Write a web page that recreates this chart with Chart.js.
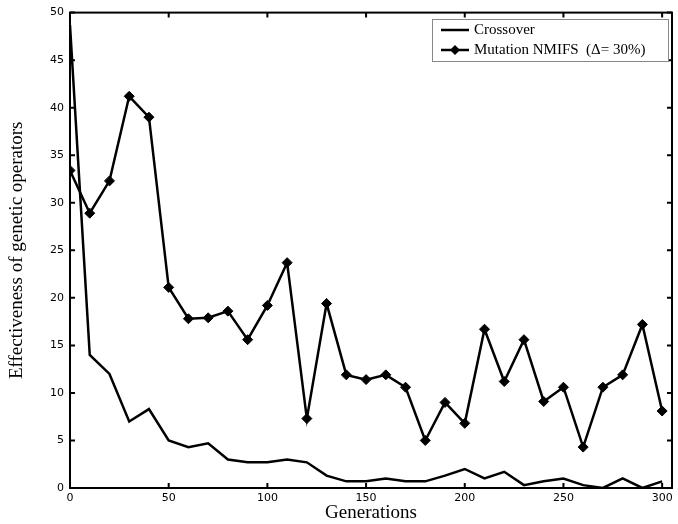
<!DOCTYPE html>
<html>
<head>
<meta charset="utf-8">
<script src="https://cdn.jsdelivr.net/npm/chart.js@4.4.1/dist/chart.umd.min.js"></script>
<style>
  html, body { margin: 0; padding: 0; background: #fff; }
  #wrap { width: 678px; height: 524px; }
</style>
</head>
<body>
<div id="wrap"><canvas id="chart1" width="678" height="524"></canvas></div>
<script>
const generations = [0, 10, 20, 30, 40, 50, 60, 70, 80, 90, 100, 110, 120, 130, 140, 150,
  160, 170, 180, 190, 200, 210, 220, 230, 240, 250, 260, 270, 280, 290, 300];

const crossover = [48.7, 14, 12, 7, 8.3, 5, 4.3, 4.7, 3, 2.7, 2.7, 3, 2.7, 1.3, 0.7, 0.7,
  1, 0.7, 0.7, 1.3, 2, 1, 1.7, 0.3, 0.7, 1, 0.3, 0, 1, 0, 0.7];

const mutation = [33.4, 28.9, 32.3, 41.2, 39, 21.1, 17.8, 17.9, 18.6, 15.6, 19.2, 23.7, 7.3, 19.4, 11.9, 11.4,
  11.9, 10.6, 5, 9, 6.8, 16.7, 11.2, 15.6, 9.1, 10.6, 4.3, 10.6, 11.9, 17.2, 8.1];

const seriesLabels = ["Crossover", "Mutation NMIFS  (\u0394= 30%)"];

function toPoints(vals) {
  return generations.map((g, i) => ({ x: g, y: vals[i] }));
}

// frame, inward ticks and boxed legend inside the plot
const framePlugin = {
  id: "frame",
  afterDraw(chart) {
    const ctx = chart.ctx;
    const a = chart.chartArea;
    const xs = chart.scales.x, ys = chart.scales.y;
    ctx.save();
    ctx.strokeStyle = "#000";
    ctx.lineWidth = 2;
    ctx.strokeRect(a.left, a.top, a.right - a.left, a.bottom - a.top);
    const len = 5;
    xs.ticks.forEach(t => {
      const px = xs.getPixelForValue(t.value);
      ctx.beginPath();
      ctx.moveTo(px, a.bottom); ctx.lineTo(px, a.bottom - len);
      ctx.moveTo(px, a.top); ctx.lineTo(px, a.top + len);
      ctx.stroke();
    });
    ys.ticks.forEach(t => {
      const py = ys.getPixelForValue(t.value);
      ctx.beginPath();
      ctx.moveTo(a.left, py); ctx.lineTo(a.left + len, py);
      ctx.moveTo(a.right, py); ctx.lineTo(a.right - len, py);
      ctx.stroke();
    });

    // legend
    const bx = 432, by = 19, bw = 236, bh = 42;
    ctx.fillStyle = "#fff";
    ctx.fillRect(bx, by, bw, bh);
    ctx.strokeStyle = "#888";
    ctx.lineWidth = 1;
    ctx.strokeRect(bx + 0.5, by + 0.5, bw, bh);
    ctx.strokeStyle = "#000";
    ctx.lineWidth = 2.5;
    ctx.font = "15px 'Liberation Serif', serif";
    ctx.fillStyle = "#000";
    ctx.textBaseline = "middle";
    const rows = [30, 50];
    rows.forEach((ry, i) => {
      ctx.beginPath();
      ctx.moveTo(441, ry); ctx.lineTo(469, ry);
      ctx.stroke();
      if (i === 1) {
        ctx.beginPath();
        ctx.moveTo(455, ry - 5); ctx.lineTo(460, ry); ctx.lineTo(455, ry + 5); ctx.lineTo(450, ry);
        ctx.closePath();
        ctx.fill();
      }
      ctx.fillText(seriesLabels[i], 474, ry);
    });
    ctx.restore();
  }
};

const ctx = document.getElementById("chart1").getContext("2d");
const myChart = new Chart(ctx, {
  type: "line",
  data: {
    datasets: [
      {
        label: seriesLabels[0],
        data: toPoints(crossover),
        borderColor: "#000",
        borderWidth: 2.5,
        pointRadius: 0,
        tension: 0
      },
      {
        label: seriesLabels[1],
        data: toPoints(mutation),
        borderColor: "#000",
        backgroundColor: "#000",
        borderWidth: 2.5,
        pointStyle: "rectRot",
        pointRadius: 5,
        pointBorderWidth: 1,
        tension: 0
      }
    ]
  },
  options: {
    responsive: false,
    animation: false,
    layout: { padding: { top: 12, right: 3, left: 0, bottom: 0 } },
    plugins: {
      legend: { display: false },
      tooltip: { enabled: false }
    },
    scales: {
      x: {
        type: "linear",
        min: 0,
        max: 305,
        grid: { display: false, drawTicks: false, tickLength: 0 },
        border: { display: false },
        ticks: {
          stepSize: 50,
          includeBounds: false,
          maxRotation: 0,
          padding: 4,
          color: "#000",
          font: { family: "'DejaVu Sans', sans-serif", size: 11 }
        },
        title: {
          display: true,
          text: "Generations",
          color: "#000",
          padding: { top: 0, bottom: 1 },
          font: { family: "'Liberation Serif', serif", size: 19, lineHeight: 1 }
        },
        afterFit(scale) { scale.height = 36; }
      },
      y: {
        min: 0,
        max: 50,
        grid: { display: false, drawTicks: false, tickLength: 0 },
        border: { display: false },
        ticks: {
          stepSize: 5,
          padding: 6,
          color: "#000",
          font: { family: "'DejaVu Sans', sans-serif", size: 11 }
        },
        title: {
          display: true,
          text: "Effectiveness of genetic operators",
          color: "#000",
          padding: { top: 8, bottom: 0 },
          font: { family: "'Liberation Serif', serif", size: 19, lineHeight: 1 }
        },
        afterFit(scale) { scale.width = 70; }
      }
    }
  },
  plugins: [framePlugin]
});
</script>
</body>
</html>
